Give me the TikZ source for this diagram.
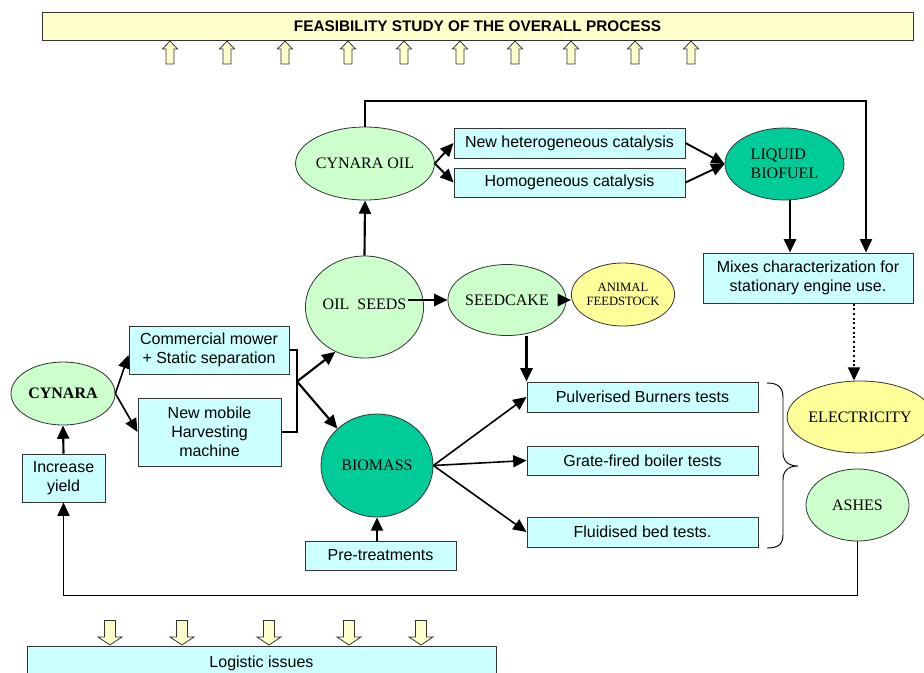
\documentclass[tikz,border=0pt]{standalone}
\usepackage{fontspec}
\setmainfont{Liberation Serif}
\setsansfont{Liberation Sans}
\usetikzlibrary{shapes.geometric,arrows.meta,calc,shadows}
\definecolor{cyanbox}{HTML}{CCFFFF}
\definecolor{lgreen}{HTML}{CCFFCC}
\definecolor{tealg}{HTML}{00CC99}
\definecolor{lyellow}{HTML}{FFFF99}
\definecolor{pyellow}{HTML}{FFFFCC}
\definecolor{edgec}{HTML}{333333}
\tikzset{
  bx/.style 2 args={minimum width=#1*0.75pt, minimum height=#2*0.75pt},
  boxn/.style={draw=edgec, line width=0.75pt, fill=cyanbox, font=\sffamily\fontsize{12}{14.2}\selectfont, align=center, inner sep=0pt,
    drop shadow={shadow xshift=1.1pt, shadow yshift=-1.1pt, fill=black!45, opacity=1}},
  elln/.style={ellipse, draw=edgec, line width=0.6pt, inner sep=0pt, font=\fontsize{12}{14.2}\selectfont, align=center},
  arr/.style={line width=1.6pt, -{Triangle[length=10pt,width=9pt]}},
  blockarr/.style={fill=pyellow, draw=edgec, line width=0.6pt, line join=miter},
}
\begin{document}
\begin{tikzpicture}[x=0.75pt,y=-0.75pt]
\useasboundingbox (0,0) rectangle (924,672);
% title and arrows
\node[boxn, fill=pyellow, font=\sffamily\bfseries\fontsize{11.5}{14}\selectfont, bx={871}{28}] (title) at (477.5,26) {FEASIBILITY STUDY OF THE OVERALL PROCESS};
\foreach \cx in {170,227,285,348,404,460,515,571,635,691}
  \draw[blockarr] (\cx-4,64) -- (\cx-4,49) -- (\cx-7.5,49) -- (\cx,41) -- (\cx+7.5,49) -- (\cx+4,49) -- (\cx+4,64) -- cycle;
% nodes
\node[elln, fill=lgreen, bx={105}{73}] (coil) at (365,163.5) {CYNARA OIL};
\node[boxn, bx={231}{30}] (hetero) at (569.5,143) {New heterogeneous catalysis};
\node[boxn, bx={231}{29}] (homo) at (569.5,182.5) {Homogeneous catalysis};
\node[elln, fill=tealg, bx={119}{72}, align=left] (liquid) at (784.5,164) {LIQUID\\BIOFUEL};
\node[boxn, bx={210}{50}] (mixes) at (808,278) {Mixes characterization for\\stationary engine use.};
\node[elln, fill=lyellow, bx={140}{72}] (elec) at (860,417) {ELECTRICITY};
\node[elln, fill=lgreen, bx={103}{72}] (ashes) at (857.5,505) {ASHES};
\node[boxn, bx={231}{30}] (pulv) at (642.5,397) {Pulverised Burners tests};
\node[boxn, bx={231}{29}] (grate) at (642.5,460.5) {Grate-fired boiler tests};
\node[boxn, bx={231}{30}] (fluid) at (642.5,532) {Fluidised bed tests.};
\node[elln, fill=lgreen, bx={103}{71}] (seed) at (507,300) {SEEDCAKE};
\node[elln, fill=lgreen, bx={111}{102}] (oils) at (364.5,307) {\raisebox{4.5pt}{OIL\ \ SEEDS}};
\node[elln, fill=lyellow, bx={94}{63}, font=\fontsize{9.5}{10.5}\selectfont] (animal) at (623,294.5) {ANIMAL\\FEEDSTOCK};
\node[elln, fill=lgreen, bx={104}{63}, font=\bfseries\fontsize{12}{14}\selectfont] (cynara) at (63,393.5) {CYNARA};
\node[boxn, bx={160}{48}] (comm) at (209,350) {Commercial mower\\+ Static separation};
\node[boxn, bx={143}{68}] (mobile) at (209.5,432) {New mobile\\Harvesting\\machine};
\node[boxn, bx={83}{48}] (incr) at (63.5,478) {Increase\\yield};
\node[elln, fill=tealg, bx={112}{103}] (bio) at (377,465.5) {BIOMASS};
\node[boxn, bx={151}{29}] (pre) at (380.5,555.5) {Pre-treatments};
\node[boxn, bx={469}{34}] (logi) at (261.5,663) {Logistic issues};
\foreach \cx in {110,182,269,349,421}
  \draw[blockarr] (\cx-5.5,620.5) -- (\cx+5.5,620.5) -- (\cx+5.5,637) -- (\cx+12,637) -- (\cx,645) -- (\cx-12,637) -- (\cx-5.5,637) -- cycle;
% connectors
\coordinate (loopR) at (866,101);
\draw[arr, line width=1.3pt] (coil.north) |- (loopR) -- (loopR |- mixes.north);
\draw[arr, line width=1.4pt] (coil.east) -- (hetero.west);
\draw[arr, line width=1.4pt] (coil.east) -- (homo.west);
\draw[arr, line width=1.4pt] (hetero.east) -- (liquid.west);
\draw[arr, line width=1.4pt] (homo.east) -- (liquid.west);
\coordinate (lqx) at (790,0);
\draw[arr, line width=2pt] (liquid.south -| lqx) -- (lqx |- mixes.north);
\coordinate (dotx) at (854,0);
\draw[dotted, line width=1.5pt, -{Triangle[length=10pt,width=9pt]}] (dotx |- mixes.south) -- (dotx |- elec.north);
\coordinate (bl) at (63.5,595.5);
\draw[arr, line width=1.3pt] (ashes.south) |- (bl) -- (incr.south);
\draw[arr] (incr.north) -- (cynara.south);
\draw[arr, line width=1.2pt] (cynara.east) -- ($(comm.west)+(0,5)$);
\draw[arr, line width=1.2pt] (cynara.east) -- (mobile.west);
\coordinate (br) at (297,381.5);
\draw[line width=1.5pt] (comm.east) -| (br) |- (mobile.east);
\draw[arr] (br) -- (oils.237);
\draw[arr] (br) -- (bio.137);
\draw[arr] (oils.north) -- (coil.south);
\draw[arr, line width=2pt] ($(oils.center)+(43,-7)$) -- (seed.west);
\draw[arr, line width=2pt] (seed.east) -- (seed.east -| animal.west);
\draw[arr, line width=2pt] (pulv.north west |- seed.south) -- (pulv.north west);
\draw[arr, line width=1.2pt] (bio.east) -- (pulv.west);
\draw[arr, line width=1.2pt] (bio.east) -- (grate.west);
\draw[arr, line width=1.2pt] (bio.east) -- (fluid.west);
\draw[arr] (bio.south |- pre.north) -- (bio.south);
% brace
\draw[line width=0.7pt] (767,383) .. controls (779,383) and (783,388) .. (783,398) -- (783,452) .. controls (783,461) and (788,466) .. (798,466) .. controls (788,466) and (783,471) .. (783,480) -- (783,534) .. controls (783,544) and (779,548) .. (767,548);
\end{tikzpicture}
\end{document}
